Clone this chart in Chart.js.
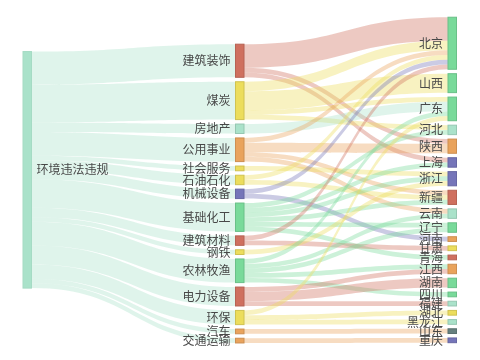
<!DOCTYPE html>
<html>
<head>
<meta charset="utf-8">
<script src="https://cdn.jsdelivr.net/npm/chart.js@4.4.1/dist/chart.umd.min.js"></script>
<style>
  html, body { margin: 0; padding: 0; background: #fff; }
</style>
</head>
<body>
<canvas id="sankeyChart" width="480" height="360"></canvas>
<script>
// --- DATA ---
const rootName = '环境违法违规';
const industries = ['建筑装饰', '煤炭', '房地产', '公用事业', '社会服务', '石油石化', '机械设备', '基础化工',
    '建筑材料', '钢铁', '农林牧渔', '电力设备', '环保', '汽车', '交通运输'];
const provinces = ['北京', '山西', '广东', '河北', '陕西', '上海', '浙江', '新疆', '云南', '辽宁', '河南',
    '甘肃', '青海', '江西', '湖南', '四川', '福建', '湖北', '黑龙江', '山东', '重庆'];

// industry -> province flows (number of cases)
const flowFrom = ['建筑装饰', '建筑装饰', '建筑装饰',
    '煤炭', '煤炭', '煤炭', '煤炭',
    '房地产',
    '公用事业', '公用事业', '公用事业', '公用事业',
    '社会服务',
    '石油石化', '石油石化',
    '机械设备', '机械设备',
    '基础化工', '基础化工', '基础化工', '基础化工', '基础化工', '基础化工',
    '建筑材料', '建筑材料',
    '钢铁',
    '农林牧渔', '农林牧渔', '农林牧渔', '农林牧渔', '农林牧渔',
    '电力设备', '电力设备', '电力设备',
    '环保', '环保', '环保',
    '汽车',
    '交通运输'];
const flowTo = ['北京', '陕西', '上海',
    '北京', '山西', '广东', '河北',
    '广东',
    '北京', '陕西', '新疆', '云南',
    '浙江',
    '北京', '新疆',
    '北京', '河南',
    '河北', '上海', '浙江', '新疆', '辽宁', '青海',
    '北京', '甘肃',
    '浙江',
    '广东', '云南', '辽宁', '江西', '四川',
    '江西', '湖南', '福建',
    '广东', '湖北', '黑龙江',
    '山东',
    '重庆'];
const flowValue = [5, 1, 1,
    2, 4, 1, 1,
    2,
    1, 2, 1, 1,
    1,
    1, 1,
    1, 1,
    1, 1, 1, 1, 1, 1,
    1, 1,
    1,
    1, 1, 1, 1, 1,
    1, 2, 1,
    1, 1, 1,
    1,
    1];

// --- COLOURS ---
const green = '#79da9a', teal = '#aae2ca', red = '#cf705f', yellow = '#ecdd5c',
    orange = '#e9a35c', purple = '#7575b9', slate = '#66807f';
const rootColor = teal;
const industryColors = [red, yellow, teal, orange, yellow, yellow, purple, green,
    red, yellow, green, red, yellow, orange, orange];
const provinceColors = [green, green, green, teal, orange, purple, purple, red, teal, green, orange,
    yellow, red, orange, green, green, teal, yellow, teal, slate, purple];

// --- LAYOUT (value space) ---
const nodeGap = 0.94;               // gap between nodes, in case units
const columnTop = [10.9, 9.34, 3.64]; // column offsets, in case units
const nodeWidth = 8.5;
const linkAlpha = 0.38;

function hexToRgba(hex, a) {
    const n = parseInt(hex.slice(1), 16);
    return `rgba(${(n >> 16) & 255}, ${(n >> 8) & 255}, ${n & 255}, ${a})`;
}
function darken(hex, f) {
    const n = parseInt(hex.slice(1), 16);
    return `rgb(${Math.round(((n >> 16) & 255) * f)}, ${Math.round(((n >> 8) & 255) * f)}, ${Math.round((n & 255) * f)})`;
}

function buildGraph() {
    const nodes = {};
    const addNode = (name, col, color) => { nodes[name] = { name, col, color, value: 0, outs: [], ins: [] }; };
    addNode(rootName, 0, rootColor);
    industries.forEach((n, i) => addNode(n, 1, industryColors[i]));
    provinces.forEach((n, i) => addNode(n, 2, provinceColors[i]));

    const links = [];
    // root -> industry links come from the industry totals
    industries.forEach(ind => {
        let v = 0;
        flowFrom.forEach((f, i) => { if (f === ind) v += flowValue[i]; });
        links.push({ source: nodes[rootName], target: nodes[ind], value: v });
    });
    flowFrom.forEach((f, i) => {
        links.push({ source: nodes[f], target: nodes[flowTo[i]], value: flowValue[i] });
    });
    links.forEach(l => { l.source.outs.push(l); l.target.ins.push(l); });
    Object.values(nodes).forEach(n => {
        const vin = n.ins.reduce((s, l) => s + l.value, 0);
        const vout = n.outs.reduce((s, l) => s + l.value, 0);
        n.value = Math.max(vin, vout);
    });

    // stack the nodes of each column
    const columns = [[rootName], industries, provinces];
    columns.forEach((names, c) => {
        let y = columnTop[c];
        names.forEach(name => {
            nodes[name].y0 = y;
            y += nodes[name].value + nodeGap;
        });
    });

    // stack the links at each node, ordered by the other end's position
    Object.values(nodes).forEach(n => {
        let off = 0;
        n.outs.slice().sort((a, b) => a.target.y0 - b.target.y0).forEach(l => { l.sy = n.y0 + off; off += l.value; });
        off = 0;
        n.ins.slice().sort((a, b) => a.source.y0 - b.source.y0).forEach(l => { l.ty = n.y0 + off; off += l.value; });
    });
    return { nodes: Object.values(nodes), links };
}

const graph = buildGraph();

const sankeyPlugin = {
    id: 'sankeyDraw',
    afterDraw(chart) {
        const { ctx, scales: { x, y } } = chart;
        const px = col => x.getPixelForValue(col);

        // links
        graph.links.forEach(l => {
            const x1 = px(l.source.col) + nodeWidth;
            const x2 = px(l.target.col);
            const y1 = y.getPixelForValue(l.sy);
            const y1b = y.getPixelForValue(l.sy + l.value);
            const y2 = y.getPixelForValue(l.ty);
            const y2b = y.getPixelForValue(l.ty + l.value);
            const cx1 = x1 + (x2 - x1) * 0.5;
            ctx.beginPath();
            ctx.moveTo(x1, y1);
            ctx.bezierCurveTo(cx1, y1, cx1, y2, x2, y2);
            ctx.lineTo(x2, y2b);
            ctx.bezierCurveTo(cx1, y2b, cx1, y1b, x1, y1b);
            ctx.closePath();
            ctx.fillStyle = hexToRgba(l.source.color, linkAlpha);
            ctx.fill();
        });

        // nodes
        graph.nodes.forEach(n => {
            const left = px(n.col);
            const top = y.getPixelForValue(n.y0);
            const h = y.getPixelForValue(n.y0 + n.value) - top;
            ctx.fillStyle = n.color;
            ctx.fillRect(left, top, nodeWidth, h);
            ctx.strokeStyle = darken(n.color, n.col === 0 ? 0.97 : 0.88);
            ctx.lineWidth = 1;
            ctx.strokeRect(left, top, nodeWidth, h);
        });

        // labels
        ctx.font = '12px "Noto Sans CJK SC", "Noto Sans", sans-serif';
        ctx.fillStyle = '#484848';
        ctx.textBaseline = 'middle';
        graph.nodes.forEach(n => {
            const left = px(n.col);
            const mid = y.getPixelForValue(n.y0 + n.value / 2);
            if (n.col === 0) {
                ctx.textAlign = 'left';
                ctx.fillText(n.name, left + nodeWidth + 5, mid);
            } else {
                ctx.textAlign = 'right';
                ctx.fillText(n.name, left - 5, mid);
            }
        });
    }
};

new Chart(document.getElementById('sankeyChart'), {
    type: 'scatter',
    data: { datasets: [] },
    options: {
        responsive: false,
        animation: false,
        layout: { padding: { left: 23, right: 32, top: 0, bottom: 0 } },
        plugins: { legend: { display: false }, tooltip: { enabled: false } },
        scales: {
            x: { type: 'linear', min: 0, max: 2, display: false },
            y: { type: 'linear', min: 0, max: 76.1, reverse: true, display: false }
        }
    },
    plugins: [sankeyPlugin]
});
</script>
</body>
</html>
